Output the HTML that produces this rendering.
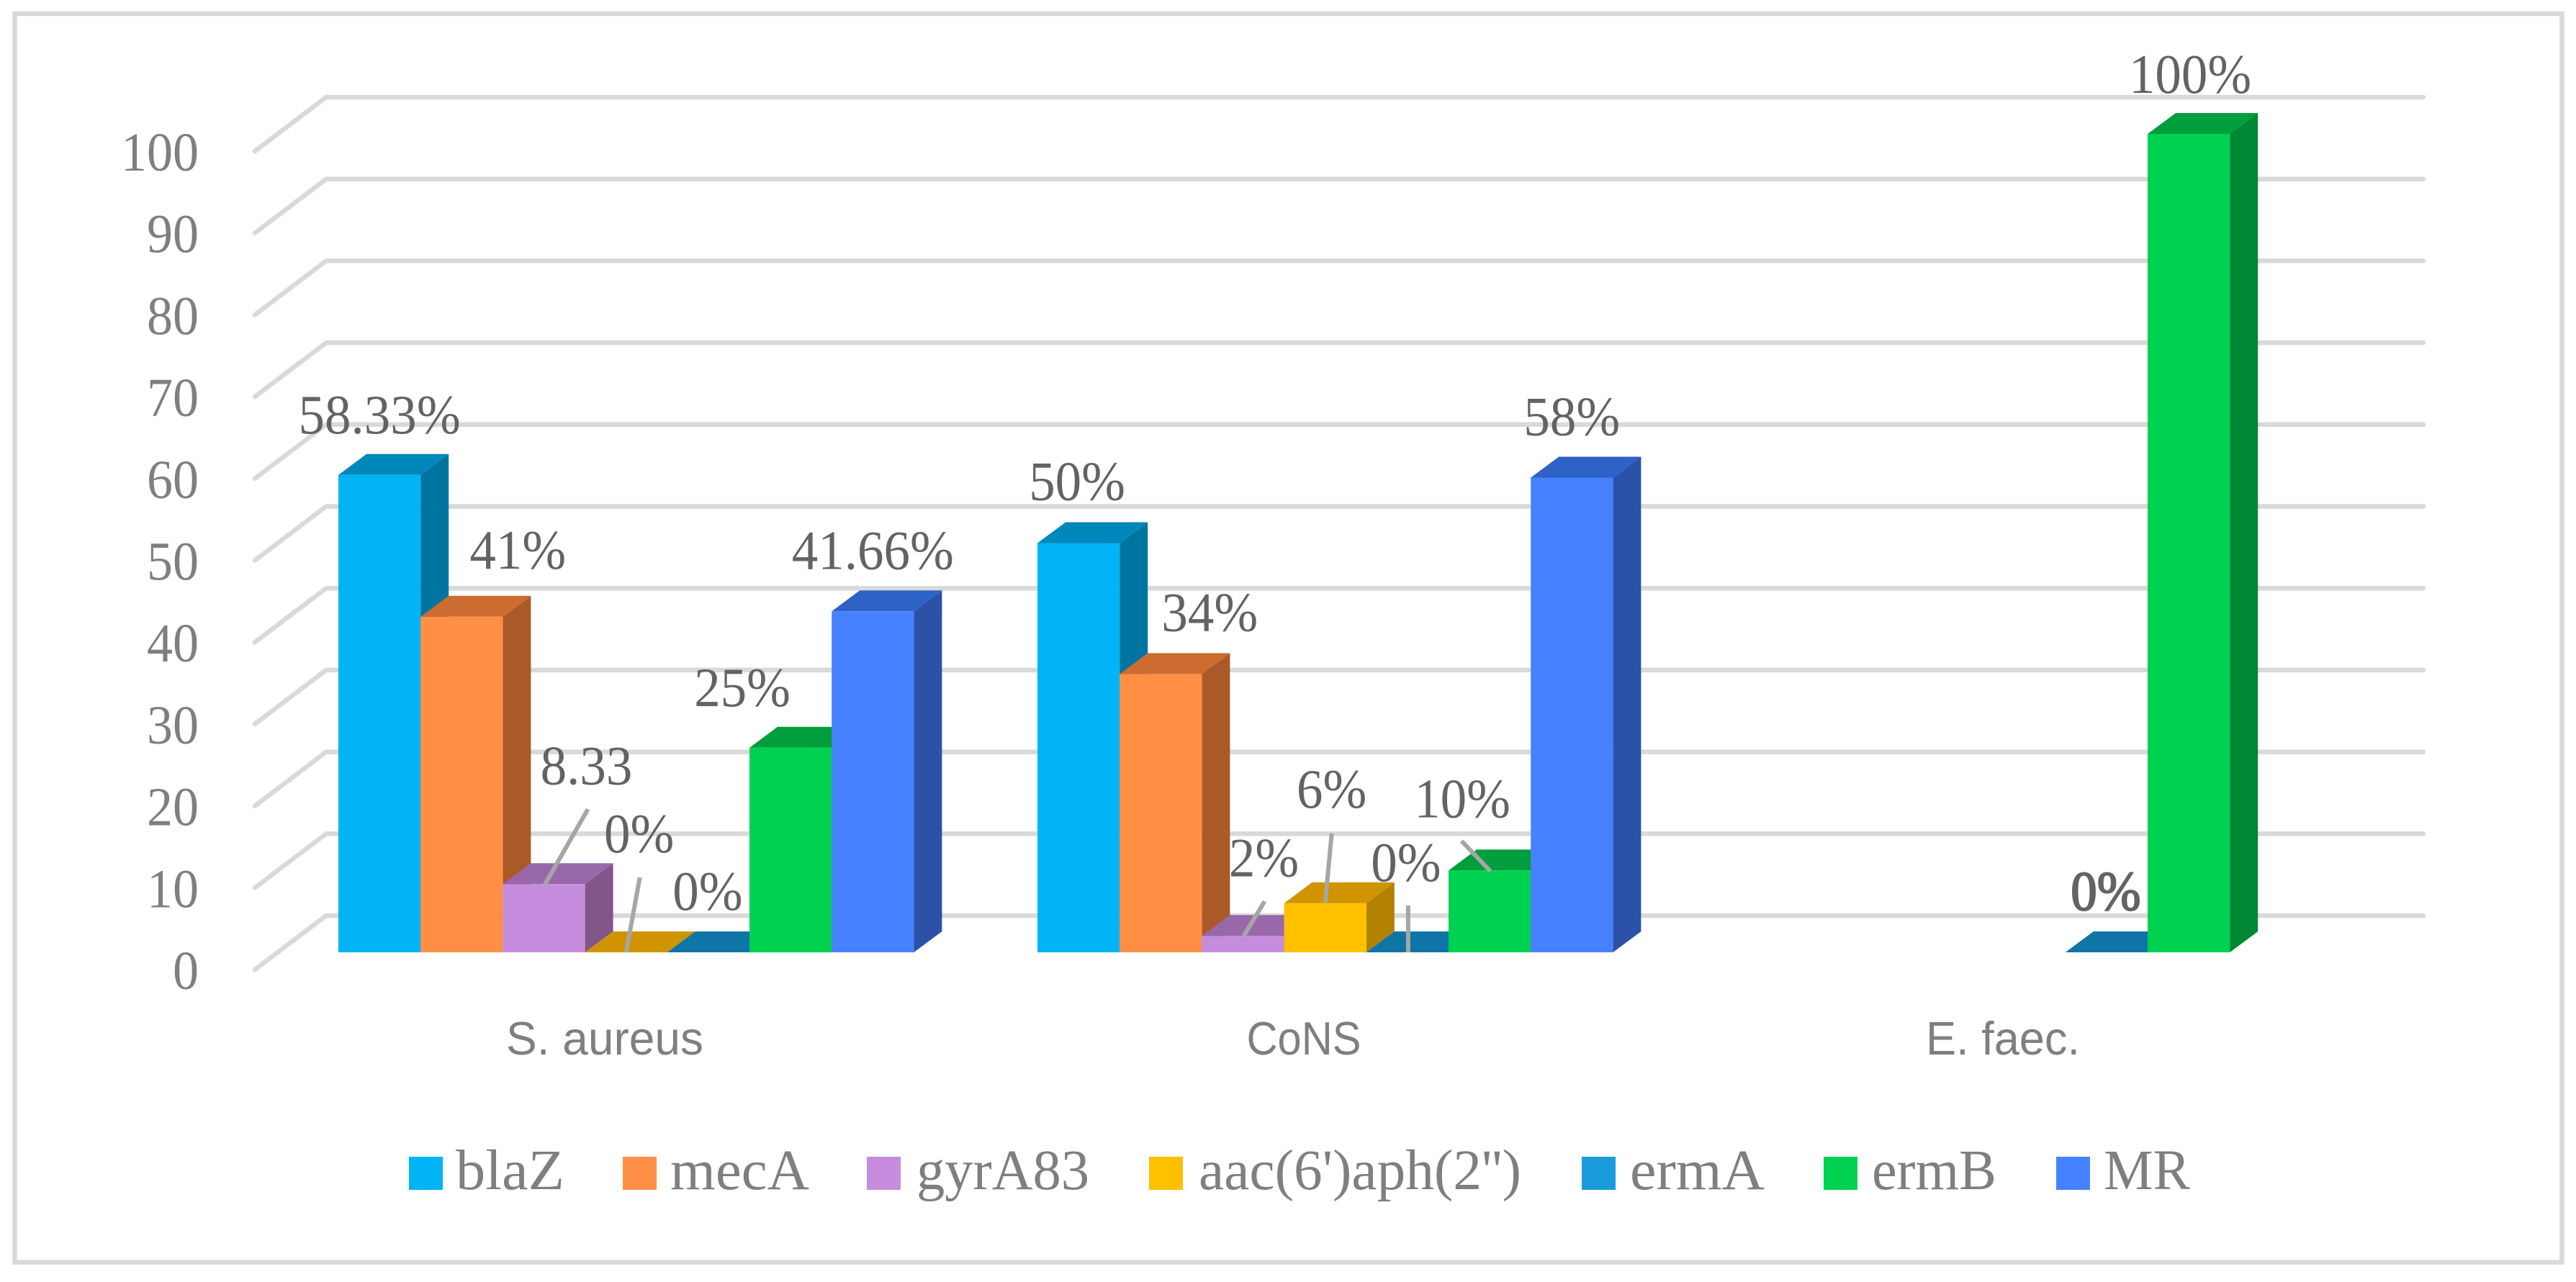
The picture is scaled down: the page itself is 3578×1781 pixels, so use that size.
<!DOCTYPE html>
<html lang="en">
<head>
<meta charset="utf-8">
<title>Resistance gene prevalence chart</title>
<style>
html,body{margin:0;padding:0;background:#fff;}
svg{display:block;}
</style>
</head>
<body>
<svg id="chart" xmlns="http://www.w3.org/2000/svg" width="3578" height="1781" viewBox="0 0 3578 1781">
  <rect x="20.5" y="19" width="3538" height="1734.5" fill="#fff" stroke="#d9d9d9" stroke-width="6.5"/>
</svg>
<script>
// ---- data ----
const categories = ['S. aureus', 'CoNS', 'E. faec.'];
const seriesNames = ['blaZ', 'mecA', 'gyrA83', "aac(6')aph(2'')", 'ermA', 'ermB', 'MR'];
const blaZValues = [58.33, 50, null];
const mecAValues = [41, 34, null];
const gyrA83Values = [8.33, 2, null];
const aacValues = [0, 6, null];
const ermAValues = [0, 0, 0];
const ermBValues = [25, 10, 100];
const mrValues = [41.66, 58, null];
const blaZLabels = ['58.33%', '50%', ''];
const mecALabels = ['41%', '34%', ''];
const gyrA83Labels = ['8.33', '2%', ''];
const aacLabels = ['0%', '6%', ''];
const ermALabels = ['0%', '0%', '0%'];
const ermBLabels = ['25%', '10%', '100%'];
const mrLabels = ['41.66%', '58%', ''];
const yTicks = [0, 10, 20, 30, 40, 50, 60, 70, 80, 90, 100];

// ---- style and layout ----
const allValues = [blaZValues, mecAValues, gyrA83Values, aacValues, ermAValues, ermBValues, mrValues];
const allLabels = [blaZLabels, mecALabels, gyrA83Labels, aacLabels, ermALabels, ermBLabels, mrLabels];
const frontColors = ['#00B4F5', '#FF8F45', '#C68CDD', '#FFC000', '#1A9CDB', '#00D150', '#4682FF'];
const topColors = ['#0088BA', '#CC6C30', '#9868AB', '#CF9400', '#0E75A6', '#009E3C', '#2F62C6'];
const sideColors = ['#0074A0', '#AA5A28', '#825688', '#B38200', '#0C6890', '#008733', '#2C52A8'];
const legendSwatchLeft = [568, 865, 1204, 1596, 2197, 2533, 2856];
const legendTextLeft = [633, 931, 1273, 1665, 2264, 2600, 2922];
const legendTextWidth = [151, 193, 240, 448, 187, 173, 120];
const categoryTextWidth = [274, 159, 214];
// label placement relative to the bar's top-centre: [dx, dy, leader or null]
const labelPlacement = [
  [[0, -58, null], [-2, -60, null], null],
  [[78, -67, null], [68, -60, null], null],
  [[59, -139, [61, -104, 1, 1]], [29, -83, [30, -48, 1, 0]], null],
  [[18, -139, [19, -104, 0, 0]], [9, -133, [9, -97, 0, -1]], null],
  [[-1, -59, null], [-2, -99, [1, -65, 1, 0]], [-1, -59, null]],
  [[-67, -58, null], [-38, -74, [-39, -41, 1, 1]], [2, -57, null]],
  [[0, -59, null], [0, -59, null], null]
];

const UNIT = 11.37, FRONT_BASE = 1323, BACK_BASE = 1272;
const DEPTH_X = 39, DEPTH_Y = 29, BAR_W = 114.2;
function yFront(v) { return FRONT_BASE - v * UNIT; }
function yGrid(v) { return BACK_BASE - v * UNIT; }
function categoryX(g) { return 840 + 971 * g; }
function barLeft(g, s) { return categoryX(g) - 370 + BAR_W * s; }

const svg = document.getElementById('chart');
const NS = 'http://www.w3.org/2000/svg';
function make(tag, attrs, parent) {
  const el = document.createElementNS(NS, tag);
  for (const k in attrs) el.setAttribute(k, attrs[k]);
  (parent || svg).appendChild(el);
  return el;
}
function pts(list) { return list.map(function (p) { return p[0].toFixed(1) + ',' + p[1].toFixed(1); }).join(' '); }
// taller glyphs at the original advance width, matching the narrow reference face
function condense(el, ratio) {
  const natural = el.getComputedTextLength();
  el.setAttribute('textLength', (natural * ratio).toFixed(1));
  el.setAttribute('lengthAdjust', 'spacingAndGlyphs');
}

// gridlines and y ticks
yTicks.forEach(function (t) {
  const y = yGrid(t);
  const grid = make('polyline', { points: pts([[354, y + 75], [453, y], [3366, y]]), fill: 'none', stroke: '#d9d9d9', 'stroke-width': 6.5, 'stroke-linecap': 'round', 'stroke-linejoin': 'round' });
  
  
  const lab = make('text', { x: 276, y: y + 102, 'text-anchor': 'end', 'font-family': '"Liberation Serif", serif', 'font-size': 76, fill: '#7f7f7f' });
  lab.textContent = String(t);
  
  
  condense(lab, 72 / 76);
});

// bars
categories.forEach(function (cat, g) {
  allValues.forEach(function (vals, s) {
    const v = vals[g];
    if (v === null) return;
    const x0 = barLeft(g, s), x1 = x0 + BAR_W, yt = yFront(v), yb = FRONT_BASE;
    const group = make('g', {});
    
    
    make('polygon', { points: pts([[x1, yt], [x1 + DEPTH_X, yt - DEPTH_Y], [x1 + DEPTH_X, yb - DEPTH_Y], [x1, yb]]), fill: sideColors[s] }, group);
    make('polygon', { points: pts([[x0, yt], [x0 + DEPTH_X, yt - DEPTH_Y], [x1 + DEPTH_X, yt - DEPTH_Y], [x1, yt]]), fill: topColors[s] }, group);
    make('rect', { x: x0.toFixed(1), y: yt.toFixed(1), width: BAR_W, height: (yb - yt).toFixed(1), fill: frontColors[s] }, group);
  });
});

// leader lines and data labels
categories.forEach(function (cat, g) {
  allValues.forEach(function (vals, s) {
    const v = vals[g];
    const place = labelPlacement[s][g];
    if (v === null || !place) return;
    const cx = barLeft(g, s) + BAR_W / 2, yt = yFront(v);
    if (place[2]) {
      const k = place[2];
      const leader = make('line', { x1: cx + k[0], y1: yt + k[1], x2: cx + k[2], y2: yt + k[3], stroke: '#a6a6a6', 'stroke-width': 6 });
      
      
    }
    const label = make('text', { x: cx + place[0], y: yt + place[1], 'text-anchor': 'middle', 'font-family': '"Liberation Serif", serif', 'font-size': 77, fill: '#636363' });
    if (g === 2 && v === 0) {
      label.setAttribute('stroke', '#636363');
      label.setAttribute('stroke-width', '2');
    }
    label.textContent = allLabels[s][g];
    
    
    condense(label, 73 / 77);
  });
});

// category labels
categories.forEach(function (cat, g) {
  const t = make('text', { x: categoryX(g), y: 1465, 'text-anchor': 'middle', 'font-family': '"Liberation Sans", sans-serif', 'font-size': 65, fill: '#7f7f7f', textLength: categoryTextWidth[g], lengthAdjust: 'spacingAndGlyphs' });
  t.textContent = cat;
  
  
});

// legend
seriesNames.forEach(function (name, s) {
  const entry = make('g', {});
  
  
  make('rect', { x: legendSwatchLeft[s], y: 1607, width: 47, height: 46, fill: frontColors[s] }, entry);
  const t = make('text', { x: legendTextLeft[s], y: 1652, 'font-family': '"Liberation Serif", serif', 'font-size': 79, fill: '#7f7f7f', textLength: legendTextWidth[s], lengthAdjust: 'spacingAndGlyphs' }, entry);
  t.textContent = name;
});
</script>
</body>
</html>
